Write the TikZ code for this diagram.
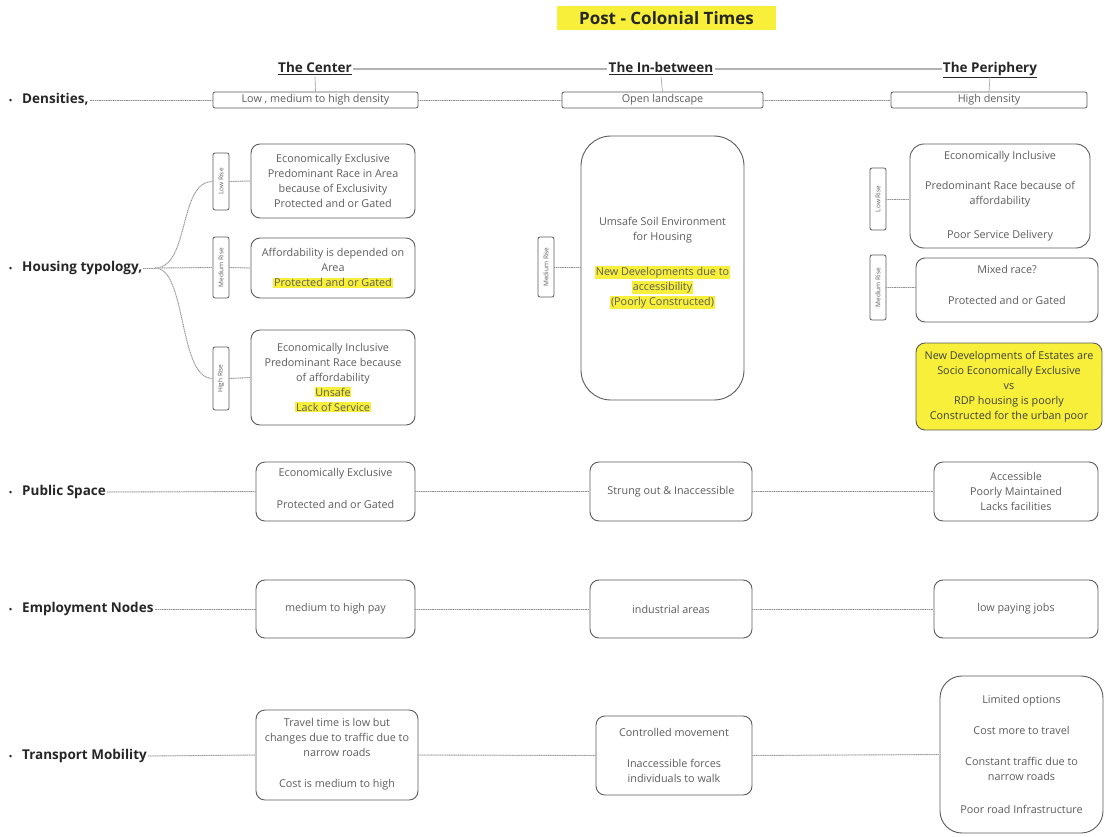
\documentclass[tikz,border=0pt]{standalone}
\usepackage{fontspec}
\setmainfont{Open Sans}
\definecolor{hly}{HTML}{F7EF3A}
\definecolor{bd}{HTML}{5A5A5A}
\definecolor{tx}{HTML}{5C5C5C}
\definecolor{ln}{HTML}{8E8E8E}
\newcommand{\hlt}[1]{{\setlength{\fboxsep}{0.8pt}\colorbox{hly}{#1}}}
\newcommand{\bul}{{\fontsize{8}{8}\selectfont•}\hspace{10pt}}
\begin{document}
\begin{tikzpicture}[x=1pt,y=-1pt,
  box/.style={draw=bd, line width=0.9pt, rounded corners=9pt, align=center, text=tx,
    font=\fontsize{10.8}{15}\selectfont, inner sep=1pt},
  dbox/.style={draw=bd, line width=0.8pt, rounded corners=2pt, align=center, text=tx,
    font=\fontsize{10.8}{12}\selectfont, minimum height=16pt, inner sep=0.5pt},
  vbox/.style={draw=bd, line width=0.8pt, rounded corners=2pt, text=tx, rotate=90,
    font=\fontsize{6.5}{7}\selectfont, minimum height=16pt, inner sep=1pt},
  rowlabel/.style={anchor=west, font=\fontsize{13.5}{15}\bfseries\selectfont, text=black!85,
    inner sep=1pt, text height=10pt, text depth=3pt},
  hdr/.style={font=\fontsize{13.5}{15}\bfseries\selectfont, text=black!85, inner sep=1pt,
    text height=10pt, text depth=3pt},
  conn/.style={draw=gray!35, line width=1pt, postaction={draw=ln, densely dotted, line width=0.8pt}},
  hline/.style={draw=gray!60, line width=1.6pt},
  vline/.style={draw=gray!70, line width=0.7pt}]
\useasboundingbox (0,0) rectangle (1105,836);

% title
\node[fill=hly, minimum width=219pt, minimum height=24pt, font=\fontsize{17}{19}\bfseries\selectfont, text=black!85] (title) at (666.5,18) {Post - Colonial Times};

% headers
\node[hdr] (hc) at (315,69) {\underline{The Center}};
\node[hdr] (hi) at (661,69) {\underline{The In-between}};
\node[hdr] (hp) at (990,69) {\underline{The Periphery}};
\draw[hline] (hc.east) -- (hi.west);
\draw[hline] (hi.east) -- (hp.west);

% row labels
\node[rowlabel] (ld) at (8,100) {\bul Densities,};
\node[rowlabel] (lh) at (8,268) {\bul Housing typology,};
\node[rowlabel] (lp) at (8,492) {\bul Public Space};
\node[rowlabel] (le) at (8,609) {\bul Employment Nodes};
\node[rowlabel] (lt) at (8,756) {\bul Transport Mobility};

% densities
\node[dbox, minimum width=205pt] (d1) at (315.5,100) {Low , medium to high density};
\node[dbox, minimum width=201pt] (d2) at (662.5,100) {Open landscape};
\node[dbox, minimum width=196pt] (d3) at (989,100) {High density};
\draw[vline] (hc.south) -- (d1.north);
\draw[vline] (hi.south) -- (d2.north);
\draw[vline] (hp.south) -- (d3.north);
\draw[conn] (ld.east) -- (d1.west);
\draw[conn] (d1.east) -- (d2.west);
\draw[conn] (d2.east) -- (d3.west);

% housing - center
\node[vbox, minimum width=57pt] (clr) at (221,181.5) {Low Rise};
\node[vbox, minimum width=61pt] (cmr) at (221,267.5) {Medium Rise};
\node[vbox, minimum width=63pt] (chr) at (221,378.5) {High Rise};
\node[box, minimum width=164pt, minimum height=74pt] (hc1) at (333,181) {Economically Exclusive\\Predominant Race in Area\\because of Exclusivity\\Protected and or Gated};
\node[box, minimum width=164pt, minimum height=60pt] (hc2) at (333,268) {Affordability is depended on\\Area\\\hlt{Protected and or Gated}};
\node[box, minimum width=164pt, minimum height=95pt] (hc3) at (333,377.5) {Economically Inclusive\\Predominant Race because\\of affordability\\\hlt{Unsafe}\\\hlt{Lack of Service}};
\coordinate (hs) at (155,268);
\draw[conn] (lh.east) -- (hs);
\draw[conn] (hs) .. controls (190,268) and (178,181.5) .. (clr.north);
\draw[conn] (hs) -- (cmr.north);
\draw[conn] (hs) .. controls (187,268) and (178,378.5) .. (chr.north);
\draw[conn] (clr.south) -- (hc1.west);
\draw[conn] (cmr.south) -- (hc2.west);
\draw[conn] (chr.south) -- (hc3.west);

% housing - in-between
\node[vbox, minimum width=60pt] (imr) at (546,267) {Medium Rise};
\node[box, rounded corners=30pt, minimum width=163pt, minimum height=264pt] (hi1) at (662.5,268) {Umsafe Soil Environment\\for Housing\\[20pt]\hlt{New Developments due to}\\\hlt{accessibility}\\\hlt{(Poorly Constructed)}\\[-1pt]{}};
\draw[conn] (imr.south) -- (hi1.west |- imr.south);

% housing - periphery
\node[vbox, minimum width=62pt] (plr) at (878,199) {Low Rise};
\node[vbox, minimum width=65pt] (pmr) at (878,287.5) {Medium Rise};
\node[box, rounded corners=14pt, minimum width=180pt, minimum height=104pt] (hp1) at (1000,196) {Economically Inclusive\\[15pt]Predominant Race because of\\affordability\\[19pt]Poor Service Delivery};
\node[box, minimum width=182pt, minimum height=64pt] (hp2) at (1007,290) {Mixed race?\\[16pt]Protected and or Gated\\[-4pt]{}};
\node[box, fill=hly, text=black!75, minimum width=186pt, minimum height=87pt] (hp3) at (1009,386.5) {New Developments of Estates are\\Socio Economically Exclusive\\vs\\RDP housing is poorly\\Constructed for the urban poor};
\draw[conn] (plr.south) -- (hp1.west |- plr.south);
\draw[conn] (pmr.south) -- (hp2.west |- pmr.south);

% public space
\node[box, minimum width=159pt, minimum height=59pt] (p1) at (335.5,491.5) {Economically Exclusive\\[17pt]Protected and or Gated\\[-8pt]{}};
\node[box, minimum width=162pt, minimum height=59pt] (p2) at (671,491.5) {Strung out \& Inaccessible};
\node[box, minimum width=164pt, minimum height=59pt] (p3) at (1016,491.5) {Accessible\\Poorly Maintained\\Lacks facilities};
\draw[conn] (lp.east) -- (p1.west);
\draw[conn] (p1.east) -- (p2.west);
\draw[conn] (p2.east) -- (p3.west);

% employment
\node[box, minimum width=159pt, minimum height=58pt] (e1) at (335.5,609) {medium to high pay};
\node[box, minimum width=162pt, minimum height=58pt] (e2) at (671,609) {industrial areas};
\node[box, minimum width=164pt, minimum height=58pt] (e3) at (1016,609) {low paying jobs};
\draw[conn] (le.east) -- (e1.west);
\draw[conn] (e1.east) -- (e2.west);
\draw[conn] (e2.east) -- (e3.west);

% transport
\node[box, minimum width=162pt, minimum height=90pt] (t1) at (337,755) {{}\\[-9pt]Travel time is low but\\changes due to traffic due to\\narrow roads\\[16pt]Cost is medium to high};
\node[box, minimum width=156pt, minimum height=79pt] (t2) at (674,755.5) {Controlled movement\\[16pt]Inaccessible forces\\individuals to walk};
\node[box, rounded corners=22pt, minimum width=163pt, minimum height=157pt] (t3) at (1021.5,754.5) {Limited options\\[16pt]Cost more to travel\\[16pt]Constant traffic due to\\narrow roads\\[18pt]Poor road Infrastructure};
\draw[conn] (lt.east) -- (t1.west);
\draw[conn] (t1.east) -- (t2.west);
\draw[conn] (t2.east) -- (t3.west);
\end{tikzpicture}
\end{document}
